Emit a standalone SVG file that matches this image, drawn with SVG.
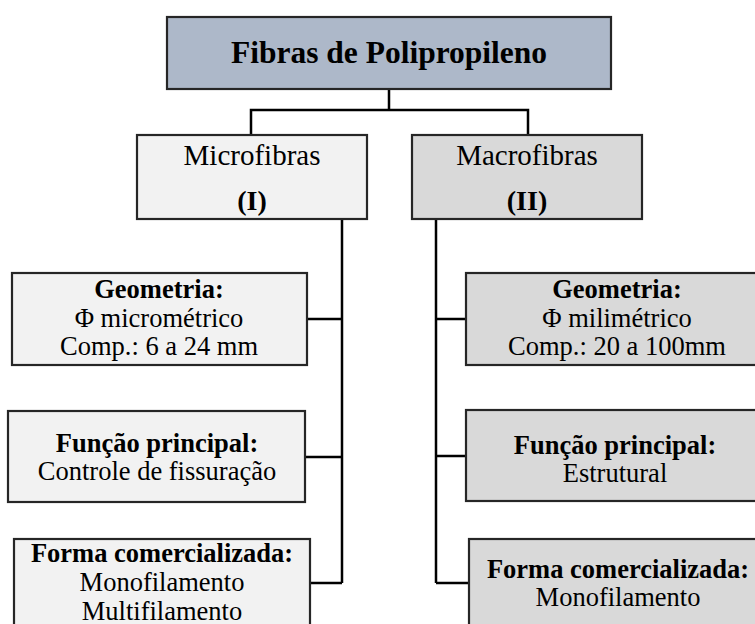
<svg xmlns="http://www.w3.org/2000/svg" width="755" height="624" viewBox="0 0 755 624">
<style>
.box{stroke:#262626;stroke-width:2.2}
.top{fill:#adb8c9}
.light{fill:#f2f2f2}
.dark{fill:#d9d9d9}
text{font-family:"Liberation Serif","Times New Roman",serif;fill:#000;text-anchor:middle}
.t{font-size:26.5px}
.b{font-weight:bold}
.conn{fill:none;stroke:#000;stroke-width:2.5}
</style>
<rect width="755" height="624" fill="#fff"/>
<g id="connectors" class="conn">
<path d="M389 89V110M251 135V110H528V135"/>
<path d="M342 219V583M307 319H342M305 457H342M310 583H342"/>
<path d="M436 219V583M436 319H466M436 456H466M436 583H469"/>
</g>
<g id="root">
<rect class="box top" x="167" y="17" width="444" height="72"/>
<text class="b" x="389" y="63" font-size="31.5">Fibras de Polipropileno</text>
</g>
<g id="micro">
<rect class="box light" x="137" y="135" width="230" height="84"/>
<text x="252" y="165" font-size="29">Microfibras</text>
<text class="b" x="252" y="210" font-size="28">(I)</text>
</g>
<g id="macro">
<rect class="box dark" x="412" y="135" width="230" height="84"/>
<text x="527" y="165" font-size="29">Macrofibras</text>
<text class="b" x="527" y="210" font-size="28">(II)</text>
</g>
<g id="micro-geometria">
<rect class="box light" x="12" y="273" width="295" height="92"/>
<text class="t b" x="159" y="298">Geometria:</text>
<text class="t" x="159" y="327">Φ micrométrico</text>
<text class="t" x="159" y="355">Comp.: 6 a 24 mm</text>
</g>
<g id="micro-funcao">
<rect class="box light" x="8" y="411" width="297" height="91"/>
<text class="t b" x="157" y="452">Função principal:</text>
<text class="t" x="157" y="480">Controle de fissuração</text>
</g>
<g id="micro-forma">
<rect class="box light" x="14" y="539" width="296" height="95"/>
<text class="t b" x="162" y="562">Forma comercializada:</text>
<text class="t" x="162" y="591">Monofilamento</text>
<text class="t" x="162" y="620">Multifilamento</text>
</g>
<g id="macro-geometria">
<rect class="box dark" x="466" y="273" width="303" height="92"/>
<text class="t b" x="617" y="298">Geometria:</text>
<text class="t" x="617" y="327">Φ milimétrico</text>
<text class="t" x="617" y="355">Comp.: 20 a 100mm</text>
</g>
<g id="macro-funcao">
<rect class="box dark" x="466" y="410" width="303" height="91"/>
<text class="t b" x="615" y="454">Função principal:</text>
<text class="t" x="615" y="482">Estrutural</text>
</g>
<g id="macro-forma">
<rect class="box dark" x="469" y="539" width="300" height="95"/>
<text class="t b" x="618" y="578">Forma comercializada:</text>
<text class="t" x="618" y="606">Monofilamento</text>
</g>
</svg>
